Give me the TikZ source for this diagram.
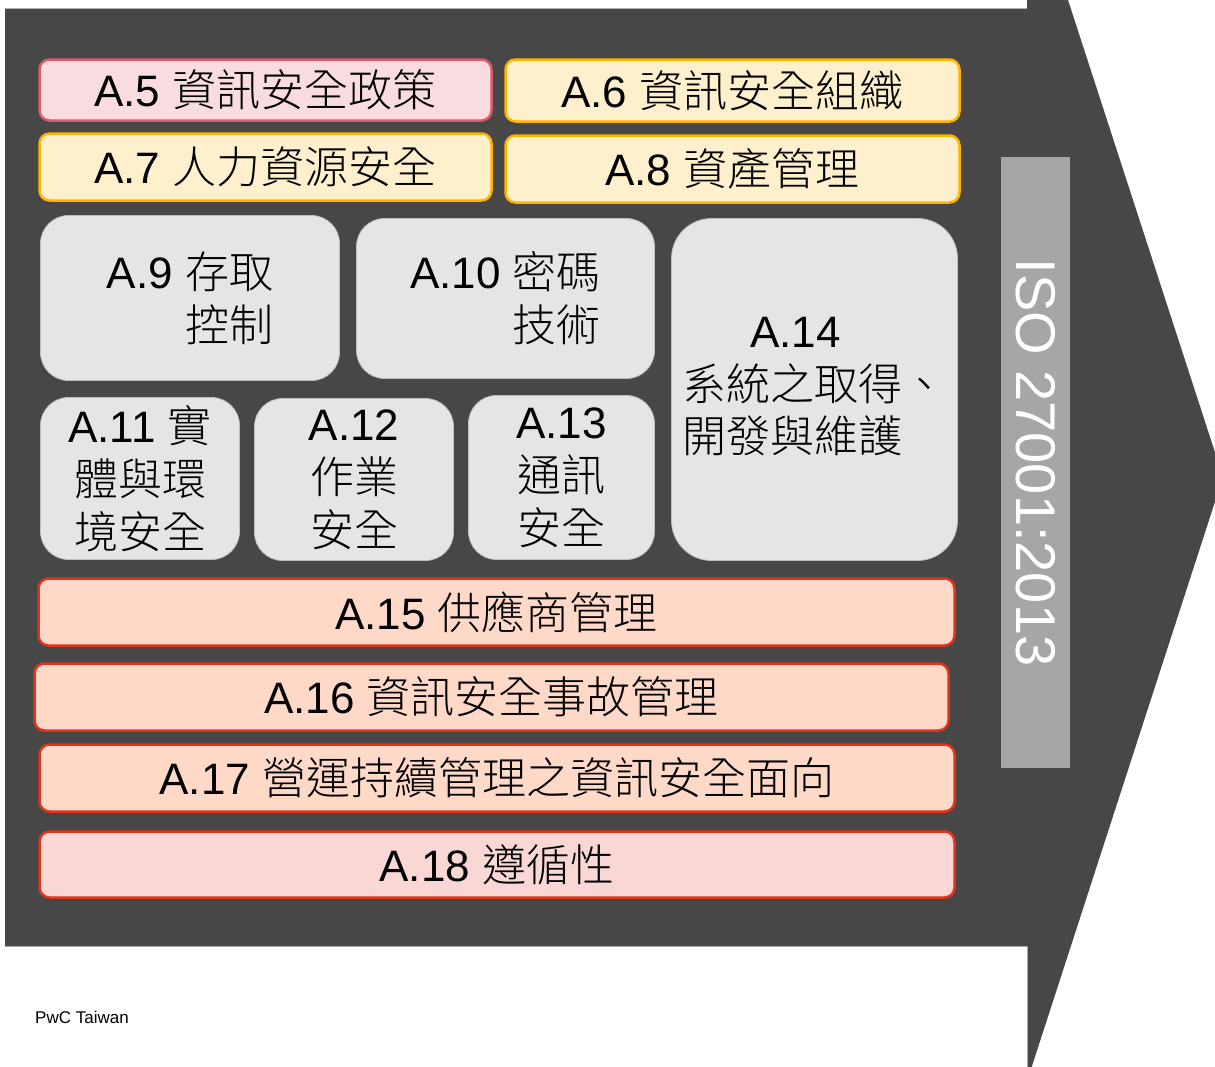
\documentclass[tikz,border=0pt]{standalone}
\usepackage{fontspec}
\setmainfont{Liberation Sans}
\newfontfamily\cjkfont{Noto Sans CJK TC Light}
\newcommand\zh[1]{{\cjkfont #1}}
\definecolor{darkbg}{HTML}{474747}
\definecolor{isogray}{HTML}{A6A6A6}
\definecolor{pinkfill}{HTML}{F9DCE0}
\definecolor{pinkline}{HTML}{DA5A6E}
\definecolor{yelfill}{HTML}{FFF0CD}
\definecolor{yelline}{HTML}{FFB300}
\definecolor{peachfill}{HTML}{FFD9C7}
\definecolor{redline}{HTML}{E2341D}
\definecolor{rosefill}{HTML}{F8D7D4}
\definecolor{grayfill}{HTML}{E5E5E5}
\definecolor{grayline}{HTML}{BDBDBD}
\begin{document}
\begin{tikzpicture}[x=1pt,y=-1pt,
  base/.style={rectangle, inner sep=0pt, text=black,
    font=\fontsize{44}{53}\selectfont},
  topbox/.style={base, rounded corners=10pt, line width=2.5pt},
  pinkbox/.style={topbox, fill=pinkfill, draw=pinkline},
  yelbox/.style={topbox, fill=yelfill, draw=yelline},
  rowbox/.style={topbox, fill=peachfill, draw=redline},
  rosebox/.style={topbox, fill=rosefill, draw=redline},
  graybox/.style={base, rounded corners=28pt, fill=grayfill, draw=grayline, line width=0.8pt},
  sz/.style 2 args={minimum width=#1pt, minimum height=#2pt}
]
\useasboundingbox (0,0) rectangle (1215,1066);

% background arrow
\fill[darkbg] (5,-20) -- (1061.5,-20) -- (1223,477) -- (1025.5,1086) -- (5,1086) -- cycle;
\fill[white] (-10,-30) rectangle (1027,8);
\draw[gray!60, line width=1pt] (5,8) -- (1027,8);
\fill[white] (-10,946) rectangle (1027,1090);
\draw[gray!70, line width=1pt] (5,946) -- (1027,946) -- (1027,1090);

% top boxes
\node[pinkbox, sz={452}{61}] (a5) at (265.5,90) {A.5 \zh{資訊安全政策}};
\node[yelbox, sz={454}{62}] (a6) at (732.5,90.5) {A.6 \zh{資訊安全組織}};
\node[yelbox, sz={452}{67}] (a7) at (265.5,167) {A.7 \zh{人力資源安全}};
\node[yelbox, sz={454}{67}] (a8) at (732.5,169) {A.8 \zh{資產管理}};

% gray boxes
\node[graybox, sz={299}{165}, align=right] (a9) at (190,298) {A.9 \zh{存取}\\\zh{控制}};
\node[graybox, sz={298}{160}, align=right] (a10) at (505.5,298.5) {A.10 \zh{密碼}\\\zh{技術}};
\node[graybox, rounded corners=40pt, sz={286}{342}] (a14) at (814.5,389.5)
  {\begin{tabular}{@{}l@{}}\multicolumn{1}{@{}c@{}}{A.14\kern38pt}\\[-0.5pt]\zh{系統之取得、}\\[-0.5pt]\zh{開發與維護}\end{tabular}};
\node[graybox, sz={199}{162}, align=center] (a11) at (140,478.5) {A.11 \zh{實}\\\zh{體與環}\\\zh{境安全}};
\node[graybox, sz={199}{162}, align=center] (a12) at (354,479.5) {A.12\\\zh{作業}\\\zh{安全}};
\node[graybox, sz={186}{164}, align=center] (a13) at (561.5,477.5) {A.13\\\zh{通訊}\\\zh{安全}};

% row boxes
\node[rowbox, sz={916}{67}] (a15) at (496.5,612) {A.15 \zh{供應商管理}};
\node[rowbox, sz={914}{67}] (a16) at (491.5,697) {A.16 \zh{資訊安全事故管理}};
\node[rowbox, sz={915}{67}] (a17) at (497,778) {A.17 \zh{營運持續管理之資訊安全面向}};
\node[rosebox, sz={915}{66}] (a18) at (497,864.5) {A.18 \zh{遵循性}};

% ISO bar
\node[rectangle, fill=isogray, inner sep=0pt, minimum width=69pt, minimum height=611pt] (iso) at (1035.5,462.5) {};
\node[rotate=-90, text=white, inner sep=0pt, font=\fontsize{56}{60}\selectfont] (isotext) at (iso.center) {ISO 27001:2013};

% footer
\node[anchor=west, inner sep=0pt, font=\fontsize{17}{20}\selectfont] (pwc) at (35,1017) {PwC Taiwan};
\end{tikzpicture}
\end{document}
